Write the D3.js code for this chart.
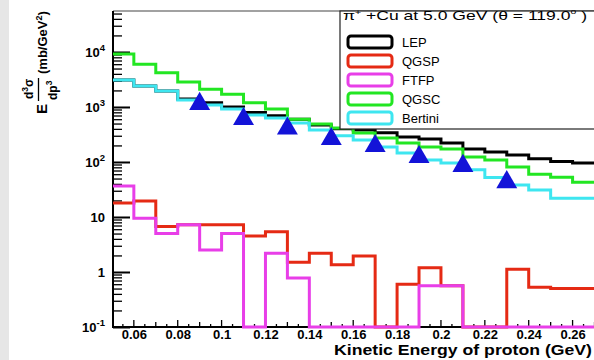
<!DOCTYPE html>
<html>
<head>
<meta charset="utf-8">
<script src="https://cdn.jsdelivr.net/npm/d3@7"></script>
<style>
  html, body { margin: 0; padding: 0; background: #fff; }
  svg { display: block; font-family: 'Liberation Sans', Arial, Helvetica, sans-serif; }
</style>
</head>
<body>
<svg id="chart" width="594" height="360"></svg>
<script>
// histogram bins: 0.01 GeV wide, first bin starts at 0.05 GeV
const binStart = 0.05
const binWidth = 0.01

const lep = [3100, 2400, 1950, 1400, 1200, 1000, 790, 690, 600, 470, 400, 380, 340, 285, 262, 221, 172, 152, 134, 115, 102, 96]
const qgsp = [18, 19.5, 6.7, 7.2, 7.2, 7.2, 4.5, 5.4, 1.5, 2.2, 1.35, 1.95, 0, 0.6, 1.2, 0.56, 0, 0, 1.12, 0.53, 0.5, 0.5]
const ftfp = [36.6, 9.5, 5.0, 7.2, 2.5, 5.0, 0, 2.2, 0.78, 0, 0, 0, 0, 0, 0.56, 0.56, 0, 0, 0, 0, 0, 0]
const qgsc = [9200, 6000, 4200, 2850, 2100, 1700, 1200, 920, 600, 490, 415, 338, 273, 221, 187, 172, 123, 109, 81, 60, 53, 43]
const bertini = [3100, 2400, 1950, 1340, 1090, 920, 715, 630, 510, 380, 300, 250, 187, 146, 109, 96, 72, 52, 38, 31, 22, 22]

const dataX = [0.09, 0.11, 0.13, 0.15, 0.17, 0.19, 0.21, 0.23]
const dataY = [1135, 605, 406, 262, 195, 123, 85, 43]

const seriesNames = ['LEP', 'QGSP', 'FTFP', 'QGSC', 'Bertini']
const seriesValues = [lep, qgsp, ftfp, qgsc, bertini]
const seriesColors = ['#000000', '#e52a14', '#e83ee8', '#22e622', '#3ee6f0']

const xLabelTicks = [0.06, 0.08, 0.1, 0.12, 0.14, 0.16, 0.18, 0.2, 0.22, 0.24, 0.26]
const yDecades = [0.1, 1, 10, 100, 1000, 10000]
const yTickLabels = [['10', '-1'], ['1', ''], ['10', ''], ['10', '2'], ['10', '3'], ['10', '4']]

const svg = d3.select('#chart')
const frame = { left: 113, right: 600, top: 11, bottom: 327 }

const x = d3.scaleLinear().domain([0.0505, 0.2725]).range([frame.left, frame.right])
const y = d3.scaleLog().domain([0.1, 55600]).range([frame.bottom, frame.top])

svg.append('rect').attr('width', 594).attr('height', 360).attr('fill', '#fff')
svg.append('rect').attr('width', 9).attr('height', 360).attr('fill', '#e6e6e6')

// y axis ticks (inside the frame)
const yMinor = y.ticks().filter((v) => !yDecades.some((d) => Math.abs(v / d - 1) < 1e-6))
svg.append('g')
  .attr('transform', `translate(${frame.left},0)`)
  .call(d3.axisLeft(y).tickValues(yMinor).tickSize(-9).tickSizeOuter(0).tickFormat(''))
  .call((g) => g.select('.domain').remove())
  .call((g) => g.selectAll('line').attr('stroke', '#000').attr('stroke-width', 1.3))

const gy = svg.append('g')
  .attr('transform', `translate(${frame.left},0)`)
  .call(d3.axisLeft(y).tickValues(yDecades).tickSize(-17).tickSizeOuter(0).tickPadding(8).tickFormat(''))
  .call((g) => g.select('.domain').remove())
  .call((g) => g.selectAll('line').attr('stroke', '#000').attr('stroke-width', 2))
gy.attr('font-family', null).attr('font-size', 13).attr('font-weight', 'bold')
gy.selectAll('.tick text').each(function (d, i) {
  const t = d3.select(this).attr('fill', '#000').attr('dy', '0.36em')
  const [base, sup] = yTickLabels[i]
  t.append('tspan').text(base)
  if (sup) t.append('tspan').attr('font-size', 9.5).attr('dy', -6).text(sup)
})

// x axis ticks
const xMinor = d3.range(0.055, 0.2725, 0.005)
const tickLen = (v) => {
  const k = Math.round(v * 1000)
  if (k % 20 === 0) return 7
  if (k % 10 === 0) return 5
  return 3
}
svg.append('g').selectAll('line')
  .data(xMinor)
  .join('line')
  .attr('x1', (d) => x(d)).attr('x2', (d) => x(d))
  .attr('y1', frame.bottom).attr('y2', (d) => frame.bottom - tickLen(d))
  .attr('stroke', '#000').attr('stroke-width', 1.3)

const gx = svg.append('g')
  .attr('transform', `translate(0,${frame.bottom})`)
  .call(d3.axisBottom(x).tickValues(xLabelTicks).tickSize(0).tickPadding(3).tickFormat(d3.format('~g')))
  .call((g) => g.select('.domain').remove())
gx.attr('font-family', null).attr('font-size', 13).attr('font-weight', 'bold')
gx.selectAll('.tick text').attr('fill', '#000')

// frame lines
svg.append('line').attr('x1', frame.left).attr('x2', 594).attr('y1', frame.top).attr('y2', frame.top)
  .attr('stroke', '#444').attr('stroke-width', 1.2)
svg.append('line').attr('x1', frame.left).attr('x2', frame.left).attr('y1', frame.top).attr('y2', frame.bottom + 1)
  .attr('stroke', '#000').attr('stroke-width', 2)
svg.append('line').attr('x1', frame.left - 1).attr('x2', 594).attr('y1', frame.bottom).attr('y2', frame.bottom)
  .attr('stroke', '#000').attr('stroke-width', 2)

// histograms
svg.append('clipPath').attr('id', 'plot-clip')
  .append('rect')
  .attr('x', frame.left).attr('y', frame.top)
  .attr('width', frame.right - frame.left).attr('height', frame.bottom - frame.top + 2)

const yMin = y.domain()[0]
const histLine = d3.line()
  .x((d) => x(d[0]))
  .y((d) => y(Math.max(d[1], yMin)))
  .curve(d3.curveStepAfter)

const histPoints = (vals) => {
  const pts = vals.map((v, i) => [binStart + i * binWidth, v])
  pts.push([binStart + vals.length * binWidth, vals[vals.length - 1]])
  return pts
}

const plot = svg.append('g').attr('clip-path', 'url(#plot-clip)')
plot.selectAll('path.hist')
  .data(seriesValues)
  .join('path')
  .attr('class', 'hist')
  .attr('d', (vals) => histLine(histPoints(vals)))
  .attr('fill', 'none')
  .attr('stroke', (d, i) => seriesColors[i])
  .attr('stroke-width', 3)
  .attr('stroke-linejoin', 'miter')

// data points
plot.selectAll('path.pt')
  .data(dataX.map((v, i) => [v, dataY[i]]))
  .join('path')
  .attr('class', 'pt')
  .attr('transform', (d) => `translate(${x(d[0])},${y(d[1])})`)
  .attr('d', d3.symbol().type(d3.symbolTriangle).size(190))
  .attr('fill', '#1313d8')

// legend
const legend = svg.append('g')
legend.append('rect')
  .attr('x', 340).attr('y', frame.top).attr('width', 270).attr('height', 118)
  .attr('fill', '#fff').attr('stroke', '#222').attr('stroke-width', 1.2)

const title = legend.append('text').attr('x', 343).attr('y', 20).attr('font-size', 13.5)
  .attr('textLength', 244).attr('lengthAdjust', 'spacingAndGlyphs')
title.append('tspan').text('π')
title.append('tspan').attr('font-size', 8).attr('dy', -5).text('+')
title.append('tspan').attr('dy', 5).text(' +Cu at 5.0 GeV (θ = 119.0')
title.append('tspan').attr('font-size', 8).attr('dy', -6).text('o')
title.append('tspan').attr('dy', 6).text(' )')

const entries = legend.selectAll('g.entry')
  .data(seriesNames)
  .join('g')
  .attr('class', 'entry')
  .attr('transform', (d, i) => `translate(0,${42 + i * 19})`)
entries.append('rect')
  .attr('x', 348).attr('y', -6).attr('width', 44).attr('height', 12).attr('rx', 3)
  .attr('fill', '#fff')
  .attr('stroke', (d, i) => seriesColors[i])
  .attr('stroke-width', 3)
entries.append('text')
  .attr('x', 402).attr('y', 5).attr('font-size', 13)
  .text((d) => d)

// axis titles
svg.append('text')
  .attr('x', 592).attr('y', 355)
  .attr('text-anchor', 'end')
  .attr('font-size', 14).attr('font-weight', 'bold')
  .attr('textLength', 258).attr('lengthAdjust', 'spacingAndGlyphs')
  .text('Kinetic Energy of proton (GeV)')

const yTitle = svg.append('g').attr('transform', 'rotate(-90)').attr('font-weight', 'bold')
yTitle.append('text').attr('x', -114).attr('y', 47).attr('font-size', 15).text('E')
const num = yTitle.append('text').attr('x', -99).attr('y', 33).attr('font-size', 12)
num.append('tspan').text('d')
num.append('tspan').attr('font-size', 8.5).attr('dy', -5).text('3')
num.append('tspan').attr('dy', 5).text('σ')
yTitle.append('line')
  .attr('x1', -101).attr('x2', -78).attr('y1', 38.5).attr('y2', 38.5)
  .attr('stroke', '#000').attr('stroke-width', 1.3)
const den = yTitle.append('text').attr('x', -100).attr('y', 57).attr('font-size', 12)
den.append('tspan').text('dp')
den.append('tspan').attr('font-size', 8.5).attr('dy', -5).text('3')
const unit = yTitle.append('text').attr('x', -74).attr('y', 47).attr('font-size', 13)
unit.append('tspan').text('(mb/GeV')
unit.append('tspan').attr('font-size', 9).attr('dy', -5).text('2')
unit.append('tspan').attr('dy', 5).text(')')
</script>
</body>
</html>
